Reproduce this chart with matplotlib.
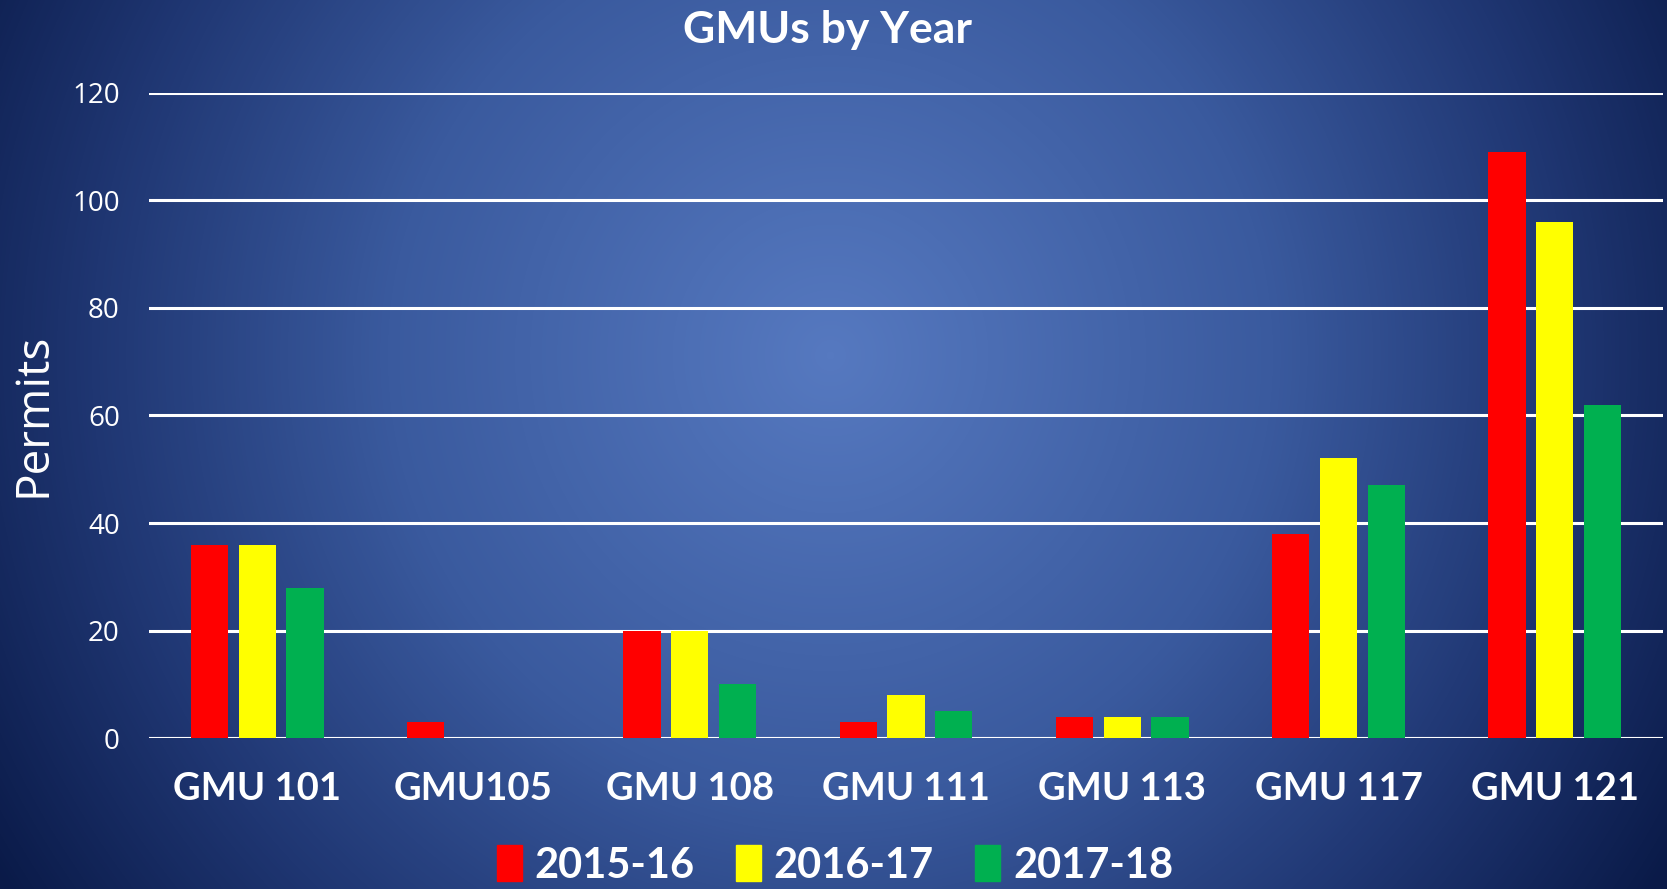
import numpy as np
import matplotlib
matplotlib.use("Agg")
import matplotlib.pyplot as plt
from matplotlib.colors import LinearSegmentedColormap
from matplotlib.patches import Patch

# data
units = ["GMU 101", "GMU105", "GMU 108", "GMU 111", "GMU 113", "GMU 117", "GMU 121"]
seasons = ["2015-16", "2016-17", "2017-18"]
permits_1516 = [36, 3, 20, 3, 4, 38, 109]
permits_1617 = [36, 0, 20, 8, 4, 52, 96]
permits_1718 = [28, 0, 10, 5, 4, 47, 62]
bar_colors = ["#FF0000", "#FFFF00", "#00B050"]

W, H = 1667, 889
fig = plt.figure(figsize=(W / 100, H / 100), dpi=100)

# radial gradient background
bg = fig.add_axes([0, 0, 1, 1], zorder=0)
yy, xx = np.mgrid[0:H, 0:W]
r = np.hypot(xx - 830, yy - 355) / 985.0
cmap = LinearSegmentedColormap.from_list(
    "bg", [(0.0, "#5679C0"), (0.45, "#3A5A9E"), (0.75, "#1F3672"), (1.0, "#0A1A48")])
bg.imshow(r, cmap=cmap, vmin=0, vmax=1, aspect="auto", extent=[0, W, H, 0])
bg.set_axis_off()

ax = fig.add_axes([149 / W, 1 - 738.3 / H, (1663 - 149) / W, (738.3 - 92.5) / H], zorder=1)
ax.patch.set_alpha(0)

x = np.arange(len(units))
width = 0.172
step = 0.221
for i, (vals, col) in enumerate(zip([permits_1516, permits_1617, permits_1718], bar_colors)):
    ax.bar(x + (i - 1) * step, vals, width, color=col, zorder=3, label=seasons[i])

ax.set_xlim(-0.5, len(units) - 0.5)
ax.set_ylim(0, 120)
ax.set_yticks(range(0, 121, 20))
ax.yaxis.grid(True, color="white", linewidth=2.2, zorder=1)
ax.set_axisbelow(True)
for s in ax.spines.values():
    s.set_visible(False)
ax.axhline(0, color="white", linewidth=2.2, zorder=2)
ax.tick_params(length=0)

ax.set_xticks(x)
ax.set_xticklabels(units, fontsize=27.5, fontweight="bold", color="white", family="Lato")
ax.tick_params(axis="x", pad=24)
for lab in ax.get_yticklabels():
    lab.set_fontsize(20)
    lab.set_color("white")
    lab.set_family("Open Sans")
ax.tick_params(axis="y", pad=21)

fig.text(10 / W, 1 - 415 / H, "Permits", rotation=90, fontsize=33, color="white",
         family="Open Sans", ha="left", va="center")
fig.text(827 / W, 1 - 30 / H, "GMUs by Year", fontsize=32, fontweight="bold",
         color="white", family="Lato", ha="center", va="center")

handles = [Patch(color=c) for c in bar_colors]
fig.legend(handles, seasons, loc="center", bbox_to_anchor=(835 / W, 1 - 865 / H), ncol=3,
           frameon=False, prop={"family": "Lato", "weight": "bold", "size": 30},
           labelcolor="white", handlelength=0.6, handleheight=0.95, handletextpad=0.3,
           columnspacing=1.0, borderpad=0.05)

fig.savefig("out.png", dpi=100)
